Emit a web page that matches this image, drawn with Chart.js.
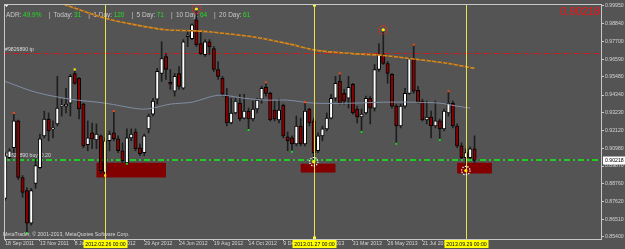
<!DOCTYPE html>
<html>
<head>
<meta charset="utf-8">
<title>Weekly chart</title>
<script src="https://cdn.jsdelivr.net/npm/chart.js@4.4.1/dist/chart.umd.min.js"></script>
<style>
  html, body { margin: 0; padding: 0; background: #535353; }
  #weeklyChart { display: block; }
</style>
</head>
<body>
<canvas id="weeklyChart" width="625" height="249"></canvas>
<script>
// weekly candles, index 0 = week of 18 Sep 2011
const opens = [
    0.8783, 0.9040, 0.9102, 0.9271, 0.8915, 0.8833, 0.8627, 0.8877, 0.8977, 0.9177,
    0.9283, 0.9221, 0.9252, 0.9364, 0.9364, 0.9383, 0.9570, 0.9539, 0.9377, 0.9121,
    0.9196, 0.9152, 0.9177, 0.8946, 0.9146, 0.9196, 0.9158, 0.9083, 0.9008, 0.9164,
    0.9202, 0.9102, 0.9071, 0.9221, 0.9314, 0.9408, 0.9570, 0.9677, 0.9514, 0.9458,
    0.9570, 0.9477, 0.9801, 0.9789, 0.9908, 0.9758, 0.9689, 0.9770, 0.9727, 0.9595,
    0.9539, 0.9427, 0.9258, 0.9321, 0.9383, 0.9289, 0.9333, 0.9283, 0.9346, 0.9408,
    0.9483, 0.9445, 0.9339, 0.9277, 0.9370, 0.9171, 0.9164, 0.9127, 0.9239, 0.9127,
    0.9346, 0.9271, 0.9083, 0.9177, 0.9221, 0.9289, 0.9414, 0.9520, 0.9445, 0.9414,
    0.9502, 0.9346, 0.9296, 0.9321, 0.9414, 0.9352, 0.9595, 0.9689, 0.9633, 0.9564,
    0.9364, 0.9239, 0.9364, 0.9445, 0.9664, 0.9464, 0.9396, 0.9277, 0.9296, 0.9239,
    0.9271, 0.9221, 0.9321, 0.9383, 0.9239, 0.9114, 0.9040, 0.9040, 0.9096
];
const highs = [
    0.9071, 0.9096, 0.9321, 0.9277, 0.8927, 0.8852, 0.8846, 0.9033, 0.9189, 0.9333,
    0.9321, 0.9271, 0.9552, 0.9408, 0.9477, 0.9564, 0.9595, 0.9545, 0.9383, 0.9271,
    0.9258, 0.9252, 0.9183, 0.9164, 0.9208, 0.9333, 0.9177, 0.9133, 0.9221, 0.9221,
    0.9221, 0.9127, 0.9189, 0.9314, 0.9414, 0.9602, 0.9770, 0.9695, 0.9595, 0.9570,
    0.9614, 0.9783, 0.9833, 0.9883, 0.9976, 0.9833, 0.9783, 0.9783, 0.9739, 0.9645,
    0.9552, 0.9477, 0.9414, 0.9414, 0.9439, 0.9439, 0.9352, 0.9396, 0.9414, 0.9489,
    0.9514, 0.9452, 0.9396, 0.9408, 0.9377, 0.9202, 0.9177, 0.9302, 0.9289, 0.9389,
    0.9352, 0.9289, 0.9196, 0.9239, 0.9321, 0.9439, 0.9552, 0.9570, 0.9470, 0.9552,
    0.9508, 0.9364, 0.9346, 0.9427, 0.9427, 0.9627, 0.9758, 0.9845, 0.9645, 0.9570,
    0.9377, 0.9377, 0.9477, 0.9670, 0.9751, 0.9489, 0.9408, 0.9396, 0.9333, 0.9396,
    0.9283, 0.9346, 0.9458, 0.9396, 0.9252, 0.9133, 0.9096, 0.9108, 0.9177
];
const lows = [
    0.8771, 0.9033, 0.9071, 0.8902, 0.8790, 0.8565, 0.8615, 0.8846, 0.8971, 0.9164,
    0.9146, 0.9164, 0.9239, 0.9302, 0.9321, 0.9302, 0.9502, 0.9283, 0.9102, 0.9083,
    0.9096, 0.9096, 0.8940, 0.8927, 0.9083, 0.9146, 0.9071, 0.9008, 0.9002, 0.9146,
    0.9083, 0.9052, 0.9052, 0.9196, 0.9302, 0.9377, 0.9520, 0.9533, 0.9470, 0.9427,
    0.9470, 0.9470, 0.9739, 0.9783, 0.9739, 0.9689, 0.9677, 0.9689, 0.9583, 0.9533,
    0.9427, 0.9239, 0.9252, 0.9314, 0.9271, 0.9283, 0.9214, 0.9271, 0.9321, 0.9383,
    0.9427, 0.9271, 0.9271, 0.9258, 0.9164, 0.9083, 0.9077, 0.9114, 0.9114, 0.9114,
    0.9239, 0.9027, 0.9071, 0.9146, 0.9208, 0.9283, 0.9396, 0.9377, 0.9377, 0.9352,
    0.9314, 0.9258, 0.9202, 0.9314, 0.9252, 0.9333, 0.9583, 0.9627, 0.9508, 0.9352,
    0.9127, 0.9227, 0.9352, 0.9439, 0.9445, 0.9383, 0.9271, 0.9252, 0.9164, 0.9227,
    0.9152, 0.9208, 0.9302, 0.9227, 0.9102, 0.9033, 0.8971, 0.9033, 0.9008
];
const closes = [
    0.9052, 0.9083, 0.9271, 0.8915, 0.8821, 0.8627, 0.8833, 0.8990, 0.9158, 0.9283,
    0.9208, 0.9227, 0.9352, 0.9370, 0.9377, 0.9552, 0.9508, 0.9346, 0.9114, 0.9164,
    0.9158, 0.9189, 0.8958, 0.9146, 0.9189, 0.9158, 0.9083, 0.9021, 0.9164, 0.9189,
    0.9096, 0.9065, 0.9177, 0.9302, 0.9396, 0.9583, 0.9664, 0.9595, 0.9502, 0.9552,
    0.9489, 0.9770, 0.9814, 0.9876, 0.9751, 0.9695, 0.9770, 0.9739, 0.9595, 0.9552,
    0.9439, 0.9258, 0.9321, 0.9396, 0.9283, 0.9333, 0.9283, 0.9346, 0.9402, 0.9477,
    0.9445, 0.9277, 0.9283, 0.9339, 0.9177, 0.9146, 0.9127, 0.9239, 0.9127, 0.9333,
    0.9258, 0.9071, 0.9177, 0.9221, 0.9289, 0.9414, 0.9508, 0.9383, 0.9396, 0.9483,
    0.9321, 0.9296, 0.9314, 0.9414, 0.9352, 0.9595, 0.9689, 0.9633, 0.9570, 0.9364,
    0.9239, 0.9364, 0.9445, 0.9664, 0.9458, 0.9389, 0.9277, 0.9296, 0.9239, 0.9271,
    0.9221, 0.9333, 0.9383, 0.9239, 0.9114, 0.9040, 0.9071, 0.9096, 0.90218
];

// moving averages (read at a few weeks, joined by straight segments)
const slowMaWeeks = [12, 22, 30, 37, 43, 47, 57, 65, 72, 80, 87, 95, 102, 108];
const slowMa = [1.0020, 0.9926, 0.9876, 0.9845, 0.9839, 0.9833, 0.9801, 0.9758, 0.9714, 0.9695, 0.9683, 0.9658, 0.9633, 0.9602];
const fastMaWeeks = [0, 7, 15, 23, 31, 34, 38, 43, 49, 55, 60, 65, 71, 80, 87, 94, 100, 104, 107];
const fastMa = [0.9520, 0.9452, 0.9408, 0.9383, 0.9346, 0.9352, 0.9377, 0.9389, 0.9433, 0.9414, 0.9402, 0.9402, 0.9383, 0.9383, 0.9389, 0.9389, 0.9383, 0.9364, 0.9352];

// fractal / signal marks
const upMarks = [2, 25, 60, 69, 77, 94, 102];
const downMarks = [5, 28, 56, 66, 82, 90, 100];
const yellowTop = [16];
const yellowBottom = [23];
const topRings = [44, 87];
const bottomRings = [71, 106];

// demand zones
const zoneStart = [21, 68, 104];
const zoneEnd = [37, 76, 112];
const zoneTop = [0.9008, 0.9002, 0.9008];
const zoneBottom = [0.8915, 0.8946, 0.8940];

// vertical date lines
const dateLineWeeks = [23, 71, 106];
const dateLineLabels = ['2012.02.26 00:00', '2013.01.27 00:00', '2013.09.29 00:00'];

const tpPrice = 0.9702;
const buyPrice = 0.9025;
const lastPrice = 0.90218;

const adrNames = ['ADR:', 'Today:', '1 Day:', '5 Day:', '10 Day:', '20 Day:'];
const adrValues = ['49.9%', '31', '120', '71', '64', '61'];

const tickWeeks = [0, 8, 16, 24, 32, 40, 48, 56, 64, 72, 80, 88, 96, 104];
const tickLabels = ['18 Sep 2011', '13 Nov 2011', '8 Jan 2012', '4 Mar 2012', '29 Apr 2012', '24 Jun 2012',
    '19 Aug 2012', '14 Oct 2012', '9 Dec 2012', '3 Feb 2013', '31 Mar 2013', '26 May 2013', '21 Jul 2013', '15 Sep 2013'];
const priceTicks = [0.99950, 0.98840, 0.97700, 0.96590, 0.95480, 0.94340, 0.93230, 0.92120, 0.90980,
    0.89870, 0.88760, 0.87620, 0.86510, 0.85400];

const FONT = 'Liberation Sans, Arial, sans-serif';

document.addEventListener("DOMContentLoaded", function () {
    const canvas = document.getElementById('weeklyChart');
    const ctx = canvas.getContext('2d');

    const wicks = opens.map((o, i) => ({ x: i, y: [lows[i], highs[i]] }));
    const bodies = opens.map((o, i) => ({ x: i, y: [o, closes[i]] }));
    const bodyColors = opens.map((o, i) => closes[i] >= o ? '#ffffff' : '#8a0000');

    // dotted ring with a yellow centre, used for the big fractals
    function ring(c, x, y, color) {
        c.save();
        c.strokeStyle = color;
        c.lineWidth = 1.2;
        c.setLineDash([1.3, 1.3]);
        c.beginPath();
        c.arc(x, y, 4.2, 0, Math.PI * 2);
        c.stroke();
        c.setLineDash([]);
        c.fillStyle = '#ffee00';
        c.beginPath();
        c.arc(x, y, 1.6, 0, Math.PI * 2);
        c.fill();
        c.restore();
    }

    const overlay = {
        id: 'mtOverlay',
        beforeDraw(chart) {
            const c = chart.ctx;
            c.save();
            c.fillStyle = '#545454';
            c.fillRect(0, 0, chart.width, chart.height);
            c.restore();
        },
        beforeDatasetsDraw(chart) {
            const { ctx: c, chartArea: a, scales: { x, y } } = chart;
            c.save();
            c.beginPath();
            c.rect(a.left, a.top, a.right - a.left, a.bottom - a.top);
            c.clip();

            // zones
            c.fillStyle = '#820000';
            zoneStart.forEach((s, k) => {
                const x0 = x.getPixelForValue(s), x1 = x.getPixelForValue(zoneEnd[k]);
                const y0 = y.getPixelForValue(zoneTop[k]), y1 = y.getPixelForValue(zoneBottom[k]);
                c.fillRect(x0, y0, x1 - x0, y1 - y0);
            });

            // order lines
            let py = Math.round(y.getPixelForValue(tpPrice)) + 0.5;
            c.strokeStyle = '#d01818';
            c.lineWidth = 1;
            c.setLineDash([5, 2, 1, 2]);
            c.beginPath(); c.moveTo(a.left, py); c.lineTo(a.right, py); c.stroke();

            py = Math.round(y.getPixelForValue(buyPrice));
            c.strokeStyle = '#22cc22';
            c.lineWidth = 2;
            c.setLineDash([6, 3, 2, 3]);
            c.beginPath(); c.moveTo(a.left, py); c.lineTo(a.right, py); c.stroke();
            c.setLineDash([]);

            c.font = '5.2px ' + FONT;
            c.fillStyle = '#dcdcdc';
            c.textBaseline = 'alphabetic';
            c.fillText('#9826890 tp', 5, y.getPixelForValue(tpPrice) - 1.5);
            c.fillText('#9826890 buy  0.20', 5, y.getPixelForValue(buyPrice) - 2.5);

            // ADR panel
            c.font = '6.5px ' + FONT;
            let px = 6;
            adrNames.forEach((name, k) => {
                if (k > 0) {
                    c.fillStyle = '#c8c8c8';
                    c.fillText('|', px, 17);
                    px += 5;
                }
                c.fillStyle = '#c8c8c8';
                c.fillText(name, px, 17);
                px += c.measureText(name).width + 1.5;
                c.fillStyle = '#22dd22';
                c.fillText(adrValues[k], px, 17);
                px += c.measureText(adrValues[k]).width + 7;
            });

            // little trade arrow
            c.fillStyle = '#ffffff';
            c.beginPath(); c.moveTo(4, 4); c.lineTo(9, 4); c.lineTo(6.5, 7); c.closePath(); c.fill();
            c.restore();
        },
        afterDatasetsDraw(chart) {
            const { ctx: c, chartArea: a, scales: { x, y } } = chart;
            c.save();
            c.beginPath();
            c.rect(a.left, a.top, a.right - a.left, a.bottom - a.top);
            c.clip();
            c.strokeStyle = '#ece04a';
            c.lineWidth = 1;
            dateLineWeeks.forEach((w, k) => {
                const px = Math.round(x.getPixelForValue(w)) + 0.5;
                c.beginPath(); c.moveTo(px, a.top); c.lineTo(px, a.bottom); c.stroke();
                if (k === 1) {
                    c.fillStyle = '#ffff40';
                    c.fillRect(px - 1.5, a.top - 0.5, 3, 3);
                    c.fillRect(px - 1.5, a.bottom - 2.5, 3, 3);
                }
            });
            topRings.forEach(w => ring(c, x.getPixelForValue(w), y.getPixelForValue(highs[w]), '#ff2020'));
            bottomRings.forEach(w => ring(c, x.getPixelForValue(w), y.getPixelForValue(lows[w]) + 2, '#ffffff'));
            c.restore();
        },
        afterDraw(chart) {
            const { ctx: c, chartArea: a, scales: { x, y } } = chart;
            c.save();
            // frame
            c.strokeStyle = '#c8c8c8';
            c.lineWidth = 1;
            c.strokeRect(a.left + 0.5, a.top + 0.5, a.right - a.left, a.bottom - a.top);

            c.font = '5.2px ' + FONT;
            c.textBaseline = 'middle';
            c.fillStyle = '#d8d8d8';
            c.fillText('MetaTrader, \u00a9 2001-2013, MetaQuotes Software Corp.', 3, 235);

            // date labels of the vertical lines
            c.textAlign = 'center';
            dateLineWeeks.forEach((w, k) => {
                const px = Math.round(x.getPixelForValue(w)) + 0.5;
                c.fillStyle = '#ffff00';
                c.fillRect(px - 22, a.bottom + 1, 44, 8);
                c.fillStyle = '#000000';
                c.fillText(dateLineLabels[k], px, a.bottom + 5.2);
            });

            // current price tag
            const py = y.getPixelForValue(lastPrice);
            c.fillStyle = '#ffffff';
            c.fillRect(a.right + 2, py - 4, 23, 8);
            c.fillStyle = '#000000';
            c.textAlign = 'left';
            c.fillText(lastPrice.toFixed(5), a.right + 4, py + 0.3);

            c.font = '11px ' + FONT;
            c.textAlign = 'right';
            c.textBaseline = 'alphabetic';
            c.fillStyle = '#ff1010';
            c.fillText(lastPrice.toFixed(5), a.right - 1, 15);
            c.restore();
        }
    };

    try {
        new Chart(ctx, {
            type: 'bar',
            data: {
                datasets: [
                    {
                        label: 'Wicks',
                        data: wicks,
                        backgroundColor: '#1e1e1e',
                        barThickness: 1,
                        grouped: false,
                        order: 5
                    },
                    {
                        label: 'Bodies',
                        data: bodies,
                        backgroundColor: bodyColors,
                        borderColor: '#000000',
                        borderWidth: 1,
                        borderSkipped: false,
                        barThickness: 3.4,
                        minBarLength: 1,
                        grouped: false,
                        order: 4
                    },
                    {
                        type: 'line',
                        label: 'Fast MA',
                        data: fastMaWeeks.map((w, k) => ({ x: w, y: fastMa[k] })),
                        borderColor: '#7f8ea3',
                        borderWidth: 1,
                        pointRadius: 0,
                        tension: 0.3,
                        order: 2
                    },
                    {
                        type: 'line',
                        label: 'Slow MA',
                        data: slowMaWeeks.map((w, k) => ({ x: w, y: slowMa[k] })),
                        borderColor: '#d98a1e',
                        borderWidth: 1.6,
                        pointRadius: 0,
                        tension: 0.3,
                        order: 2
                    },
                    {
                        type: 'line',
                        label: 'Slow MA dots',
                        data: slowMaWeeks.map((w, k) => ({ x: w, y: slowMa[k] })),
                        borderColor: '#222222',
                        borderWidth: 0.7,
                        borderDash: [1.5, 4],
                        pointRadius: 0,
                        tension: 0.3,
                        order: 1
                    },
                    {
                        type: 'scatter',
                        label: 'Up',
                        data: upMarks.map(w => ({ x: w, y: highs[w] })),
                        pointStyle: 'rect',
                        pointRadius: 1.4,
                        backgroundColor: '#ff4a10',
                        borderWidth: 0,
                        order: 0
                    },
                    {
                        type: 'scatter',
                        label: 'Down',
                        data: downMarks.map(w => ({ x: w, y: lows[w] })),
                        pointStyle: 'rect',
                        pointRadius: 1.4,
                        backgroundColor: '#18e018',
                        borderWidth: 0,
                        order: 0
                    },
                    {
                        type: 'scatter',
                        label: 'Yellow',
                        data: yellowTop.map(w => ({ x: w, y: highs[w] })).concat(yellowBottom.map(w => ({ x: w, y: lows[w] }))),
                        pointStyle: 'rect',
                        pointRadius: 1.6,
                        backgroundColor: '#ffe600',
                        borderWidth: 0,
                        order: 0
                    }
                ]
            },
            options: {
                responsive: false,
                animation: false,
                devicePixelRatio: 1,
                events: [],
                layout: { padding: { top: 2, left: 0, right: 0, bottom: 0 } },
                plugins: {
                    legend: { display: false },
                    tooltip: { enabled: false }
                },
                scales: {
                    x: {
                        type: 'linear',
                        min: -0.27,
                        max: 137.1,
                        offset: false,
                        grid: { drawOnChartArea: false, tickLength: 2, color: '#c8c8c8', offset: false },
                        border: { display: false },
                        ticks: {
                            autoSkip: false,
                            maxRotation: 0,
                            align: 'start',
                            padding: 0,
                            color: '#d4d4d4',
                            font: { family: FONT, size: 5.2, lineHeight: 1 },
                            callback: (value, index) => tickLabels[index]
                        },
                        afterBuildTicks: axis => { axis.ticks = tickWeeks.map(v => ({ value: v })); },
                        afterFit: axis => { axis.height = 10; axis.paddingLeft = 0; axis.paddingRight = 0; }
                    },
                    y: {
                        position: 'right',
                        min: 0.85274,
                        max: 1.00075,
                        grid: { drawOnChartArea: false, tickLength: 3, color: '#c8c8c8' },
                        border: { display: false },
                        ticks: {
                            padding: 1,
                            color: '#d4d4d4',
                            font: { family: FONT, size: 5.2, lineHeight: 1 },
                            callback: value => value.toFixed(5)
                        },
                        afterBuildTicks: axis => { axis.ticks = priceTicks.map(v => ({ value: v })); },
                        afterFit: axis => { axis.width = 24; axis.paddingTop = 0; axis.paddingBottom = 0; }
                    }
                }
            },
            plugins: [overlay]
        });
    } catch (error) {
        console.error('Error creating weekly chart:', error);
    }
});
</script>
</body>
</html>
